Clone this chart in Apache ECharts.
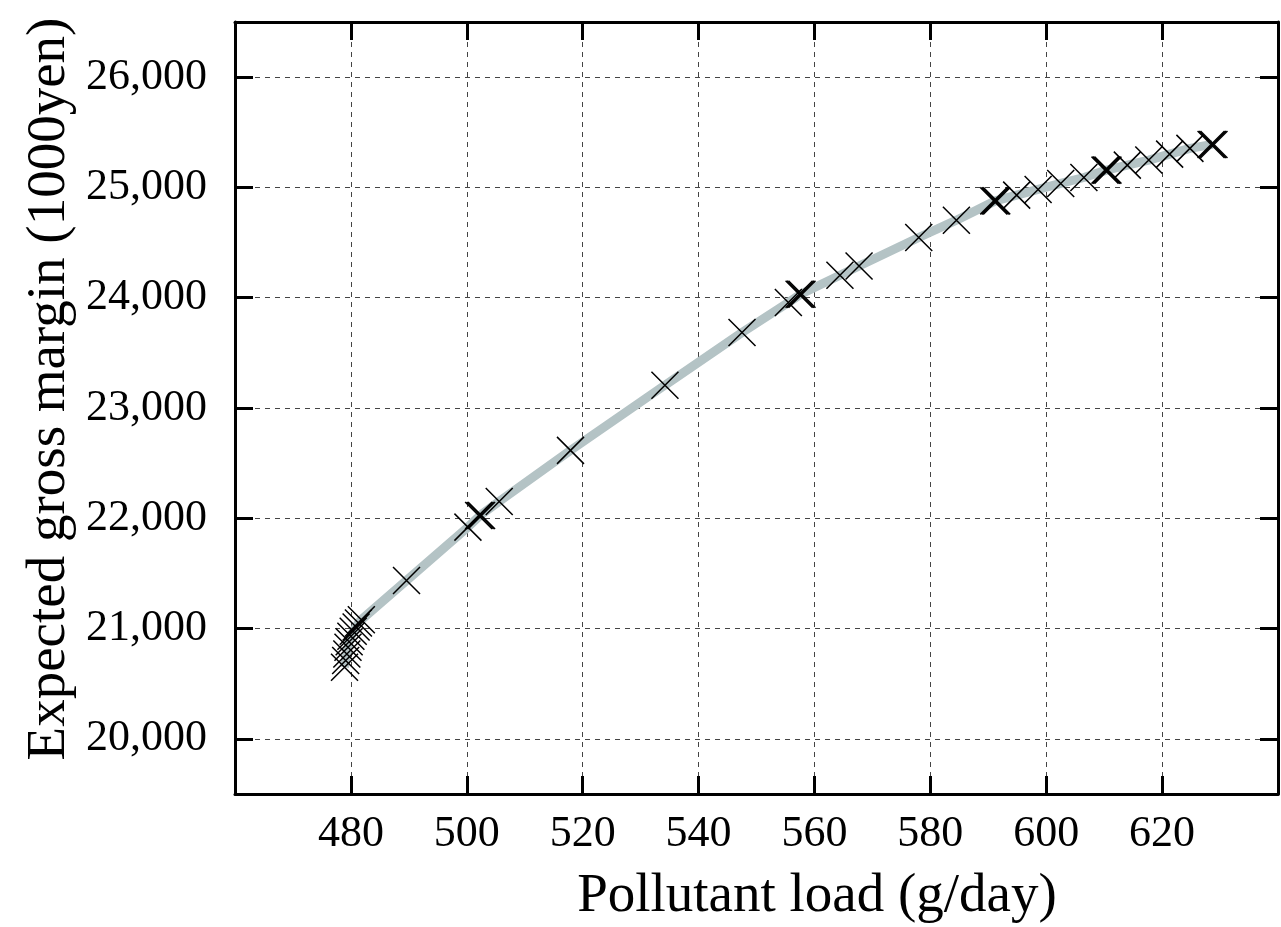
<!DOCTYPE html>
<html>
<head>
<meta charset="utf-8">
<script src="https://cdn.jsdelivr.net/npm/echarts@6/dist/echarts.min.js"></script>
<style>
html,body{margin:0;padding:0;background:#fff;}
#chart{width:1281px;height:927px;}
</style>
</head>
<body>
<div id="chart"></div>
<script>
// Pollutant load (g/day)
const loadX = [478.9, 479.1, 479.3, 479.5, 479.7, 480.0, 480.4, 480.9, 481.3, 481.8,
  489.6, 500.2, 502.3, 505.6, 517.9, 534.2, 547.5, 555.5, 557.6, 564.4, 567.7,
  578.0, 584.5, 591.2, 594.9, 598.6, 602.5, 606.5, 610.4, 614.0, 617.7, 621.3, 624.8, 628.7];
// Expected gross margin (1000yen)
const marginY = [20650, 20710, 20770, 20830, 20880, 20930, 20975, 21015, 21050, 21080,
  21436, 21920, 22026, 22153, 22616, 23207, 23684, 23956, 24031, 24204, 24288,
  24546, 24703, 24878, 24930, 24982, 25036, 25090, 25157, 25202, 25248, 25302, 25354, 25390];
// emphasised (bold) markers
const boldIdx = [12, 18, 23, 28, 33];
const yTicks = [20000, 21000, 22000, 23000, 24000, 25000, 26000];
const xTicks = [480, 500, 520, 540, 560, 580, 600, 620];

const linePts = loadX.map((x, i) => [x, marginY[i]]);
const markerPts = linePts.slice();
boldIdx.forEach(i => { markerPts.push([loadX[i] + 0.25, marginY[i]]); markerPts.push([loadX[i] - 0.25, marginY[i]]); });

const FONT = 'Liberation Serif';
const chart = echarts.init(document.getElementById('chart'), null, {renderer: 'canvas'});
const gridLine = {show: true, lineStyle: {color: '#444', width: 1, type: [5, 5]}};
const tickStyle = {show: true, inside: true, length: 18, lineStyle: {color: '#000', width: 3}};
chart.setOption({
  animation: false,
  backgroundColor: '#fff',
  grid: {left: 235, top: 22, width: 1053, height: 772},
  xAxis: [{
    type: 'value', min: 460, max: 640, interval: 20, position: 'bottom',
    axisLine: {show: true, onZero: false, lineStyle: {color: '#000', width: 3}},
    axisTick: tickStyle,
    axisLabel: {margin: 18, fontFamily: FONT, fontSize: 44, color: '#000',
      formatter: v => xTicks.includes(v) ? String(v) : ''},
    splitLine: gridLine
  }, {
    type: 'value', min: 460, max: 640, interval: 20, position: 'top',
    axisLine: {show: true, onZero: false, lineStyle: {color: '#000', width: 3}},
    axisTick: tickStyle, axisLabel: {show: false}, splitLine: {show: false}
  }],
  yAxis: [{
    type: 'value', min: 19500, max: 26500, position: 'left',
    axisLine: {show: true, onZero: false, lineStyle: {color: '#000', width: 3}},
    axisTick: Object.assign({customValues: yTicks}, tickStyle),
    axisLabel: {customValues: yTicks, margin: 28, fontFamily: FONT, fontSize: 44, color: '#000',
      formatter: v => Number(v).toLocaleString('en-US')},
    splitLine: gridLine
  }, {
    type: 'value', min: 19500, max: 26500, position: 'right',
    axisLine: {show: true, onZero: false, lineStyle: {color: '#000', width: 3}},
    axisTick: Object.assign({customValues: yTicks}, tickStyle),
    axisLabel: {show: false}, splitLine: {show: false}
  }],
  series: [{
    type: 'line', data: linePts, showSymbol: false, symbol: 'none',
    lineStyle: {color: '#b4c3c5', width: 9}, z: 2
  }, {
    type: 'scatter', data: markerPts,
    symbol: 'path://M0,0L10,10M10,0L0,10', symbolSize: 27,
    itemStyle: {color: 'none', borderColor: '#000', borderWidth: 1.5, opacity: 1}, z: 3
  }],
  graphic: [{
    type: 'text', x: 817, y: 897,
    style: {text: 'Pollutant load (g/day)', font: '55px "Liberation Serif"', fill: '#000',
      textAlign: 'center', textVerticalAlign: 'middle'}
  }, {
    type: 'text', x: 50, y: 389, rotation: Math.PI / 2,
    style: {text: 'Expected gross margin (1000yen)', font: '55px "Liberation Serif"', fill: '#000',
      textAlign: 'center', textVerticalAlign: 'middle'}
  }]
});
</script>
</body>
</html>
